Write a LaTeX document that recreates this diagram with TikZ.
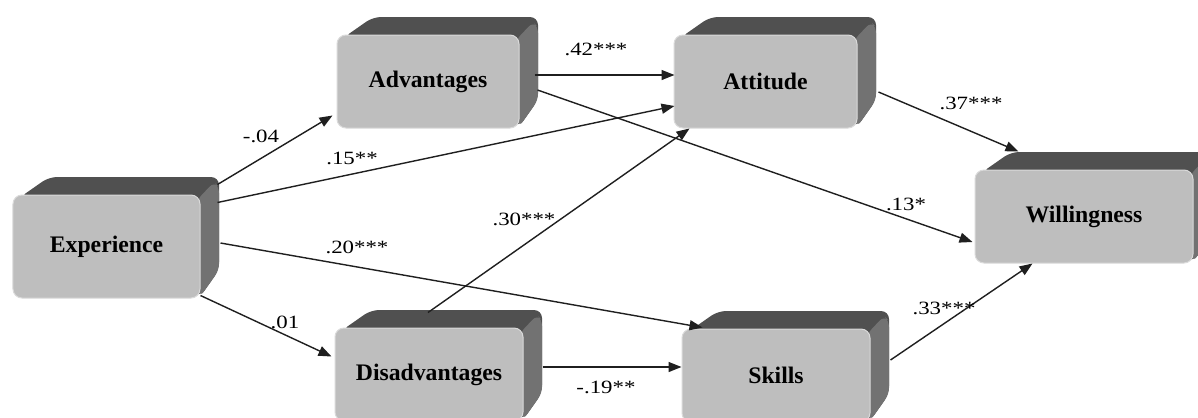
\documentclass[tikz,border=0pt]{standalone}
\usepackage{fontspec}
\setmainfont{Liberation Serif}
\newfontfamily\lblfont[FakeStretch=1.22]{Liberation Serif}
\usetikzlibrary{calc,arrows.meta}
\definecolor{frontgray}{HTML}{BEBEBE}
\definecolor{topgray}{HTML}{505050}
\definecolor{sidegray}{HTML}{727272}
\definecolor{rimgray}{HTML}{DADADA}
\tikzset{
  frontface/.style={draw=rimgray, line width=1bp, fill=frontgray, rounded corners=9bp,
    inner sep=0pt, font=\fontsize{23.8}{23.8}\selectfont\bfseries},
  conn/.style={draw=black!88, line width=1.4bp, -{Triangle[length=13bp,width=10bp]}},
  coef/.style={font=\lblfont\fontsize{18.8}{18.8}\selectfont, inner sep=0pt},
}
\newcommand\cubebox[6]{%
  \pgfmathsetmacro\cbw{#4-#2}\pgfmathsetmacro\cbh{#5-#3}%
  \pgfmathsetmacro\cbx{(#2+#4)/2}\pgfmathsetmacro\cby{(#3+#5)/2}%
  \fill[topgray, rounded corners=8bp] (#2+6,#3+3) -- (#2+36,#3-18) -- (#4+19,#3-18)
      -- (#4+19,#5-28) -- (#4,#5-1) -- cycle;
  \fill[sidegray, rounded corners=6bp] (#4-3,#3+5) -- (#4+14,#3-13) -- (#4+19,#3-8)
      -- (#4+19,#5-28) -- (#4,#5-1) -- cycle;
  \node[frontface, minimum width=\cbw bp, minimum height=\cbh bp] (#1) at (\cbx,\cby) {#6};
}
\begin{document}
\begin{tikzpicture}[x=1bp,y=-1bp]
\useasboundingbox (0,0) rectangle (1198,417);
\clip (0,0) rectangle (1198,417);
\fill[white] (0,0) rectangle (1198,417);

\cubebox{exp}{13}{195}{200}{298}{Experience}
\cubebox{adv}{337}{35}{519}{128}{Advantages}
\cubebox{att}{674}{35}{857}{128}{Attitude}
\cubebox{wil}{975}{170}{1193}{263}{Willingness}
\cubebox{dis}{335}{328}{523}{421}{Disadvantages}
\cubebox{ski}{682}{329}{870}{422}{Skills}

\draw[conn] ($(exp.north east)+(17,-10)$) -- ($(adv.south west)+(-4,-13)$);
\draw[conn] ($(exp.north east)+(17,8)$) -- ($(att.west)+(1,24.5)$);
\draw[conn] ($(exp.east)+(20,-3.5)$) -- ($(ski.north west)+(21,-1)$);
\draw[conn] ($(exp.south east)+(0,-3)$) -- ($(dis.north west)+(-3,29)$);
\draw[conn] ($(adv.east)+(15,-6.5)$) -- ($(att.west)+(1,-6.5)$);
\draw[conn] ($(adv.east)+(18,8.5)$) -- ($(wil.west)+(-2,25.5)$);
\draw[conn] ($(dis.north)+(-1,-15)$) -- ($(att.south west)+(16,0)$);
\draw[conn] ($(dis.east)+(19,-7.5)$) -- ($(ski.west)+(0,-8.5)$);
\draw[conn] ($(att.east)+(21,10.5)$) -- ($(wil.north west)+(44,-18)$);
\draw[conn] ($(ski.east)+(20,-15.5)$) -- ($(wil.south west)+(58,0)$);

\node[coef] (c1) at (261,136) {-.04};
\node[coef] (c2) at (352,158) {.15**};
\node[coef] (c3) at (357,247) {.20***};
\node[coef] (c4) at (285,322) {.01};
\node[coef] (c5) at (596,49) {.42***};
\node[coef] (c6) at (906,204) {.13*};
\node[coef] (c7) at (524,219) {.30***};
\node[coef] (c8) at (606,387) {-.19**};
\node[coef] (c9) at (971,103) {.37***};
\node[coef] (c10) at (944,308) {.33***};
\end{tikzpicture}
\end{document}
